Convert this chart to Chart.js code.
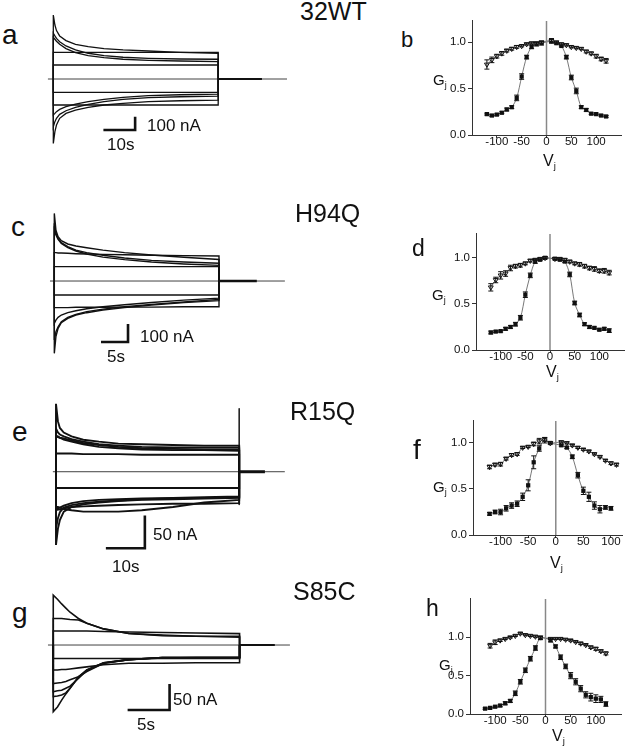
<!DOCTYPE html>
<html lang="en">
<head>
<meta charset="UTF-8">
<title>junctional currents and Gj-Vj</title>
<script src="https://cdn.jsdelivr.net/npm/chart.js"></script>
<style>
  body { margin: 0; background: #fff; font-family: "Liberation Sans", Arial, sans-serif; }
  #fig { position: relative; width: 629px; height: 750px; overflow: hidden; }
  #fig canvas { position: absolute; }
  .lbl { position: absolute; line-height: 1; color: #111; white-space: nowrap; }
  .lbl sub { font-size: 0.6em; vertical-align: -0.35em; line-height: 0; }
</style>
</head>
<body>
<div id="fig">
  <canvas id="trA" width="260" height="150" style="left:40px;top:5px"></canvas>
  <canvas id="trC" width="260" height="155" style="left:40px;top:205px"></canvas>
  <canvas id="trE" width="260" height="160" style="left:40px;top:395px"></canvas>
  <canvas id="trG" width="260" height="150" style="left:40px;top:585px"></canvas>

  <canvas id="gjB" width="190" height="145" style="left:436px;top:12px"></canvas>
  <canvas id="gjD" width="189" height="147" style="left:440px;top:225px"></canvas>
  <canvas id="gjF" width="190" height="145" style="left:437px;top:412px"></canvas>
  <canvas id="gjH" width="192" height="146" style="left:434px;top:590px"></canvas>

  <!-- panel letters and titles -->
  <div class="lbl" style="font-size:28px;left:2px;top:21px">a</div>
  <div class="lbl" style="font-size:28px;left:11px;top:213px">c</div>
  <div class="lbl" style="font-size:28px;left:12px;top:418px">e</div>
  <div class="lbl" style="font-size:28px;left:12px;top:599px">g</div>
  <div class="lbl" style="font-size:22px;left:401px;top:29px">b</div>
  <div class="lbl" style="font-size:23px;left:412px;top:237px">d</div>
  <div class="lbl" style="font-size:28px;left:413px;top:436px">f</div>
  <div class="lbl" style="font-size:23px;left:426px;top:597px">h</div>

  <div class="lbl" style="font-size:25px;left:300px;top:-1px">32WT</div>
  <div class="lbl" style="font-size:25px;left:295px;top:201px">H94Q</div>
  <div class="lbl" style="font-size:25px;left:290px;top:399px">R15Q</div>
  <div class="lbl" style="font-size:25px;left:293px;top:579px">S85C</div>

  <!-- scale bar labels -->
  <div class="lbl" style="font-size:17px;left:147px;top:117px">100 nA</div>
  <div class="lbl" style="font-size:17px;left:107px;top:136px">10s</div>
  <div class="lbl" style="font-size:17px;left:140px;top:328px">100 nA</div>
  <div class="lbl" style="font-size:17px;left:107px;top:348px">5s</div>
  <div class="lbl" style="font-size:17px;left:153px;top:526px">50 nA</div>
  <div class="lbl" style="font-size:17px;left:112px;top:558px">10s</div>
  <div class="lbl" style="font-size:17px;left:173px;top:691px">50 nA</div>
  <div class="lbl" style="font-size:17px;left:137px;top:716px">5s</div>

  <!-- Gj / Vj axis titles -->
  <div class="lbl" style="font-size:15px;left:433px;top:72px">G<sub>j</sub></div>
  <div class="lbl" style="font-size:15px;left:432px;top:287px">G<sub>j</sub></div>
  <div class="lbl" style="font-size:15px;left:433px;top:479px">G<sub>j</sub></div>
  <div class="lbl" style="font-size:15px;left:439px;top:657px">G<sub>j</sub></div>
  <div class="lbl" style="font-size:16px;left:543px;top:153px">V<sub>j</sub></div>
  <div class="lbl" style="font-size:16px;left:546px;top:364px">V<sub>j</sub></div>
  <div class="lbl" style="font-size:16px;left:550px;top:555px">V<sub>j</sub></div>
  <div class="lbl" style="font-size:16px;left:552px;top:728px">V<sub>j</sub></div>
</div>

<script>
// ---- current traces (time in s, current in nA) ----
const tA = [0, 0.5, 1, 2, 4, 7, 11, 16, 22, 30, 40, 52];
const tracesA = [
  [480, 405, 363, 323, 288, 260, 243, 228, 218, 210, 200, 193],
  [343, 323, 305, 280, 248, 218, 193, 175, 163, 155, 150, 148],
  [313, 298, 283, 260, 228, 198, 175, 160, 148, 140, 135, 130],
  [-483, -395, -345, -295, -258, -233, -213, -195, -183, -170, -163, -158],
  [-358, -320, -295, -265, -238, -213, -190, -170, -153, -140, -133, -128],
  [-270, -258, -245, -228, -208, -188, -170, -153, -138, -125, -118, -113]
];
const flatA = [200, 105, -100, -195];

const tC = [0, 0.3, 0.7, 1.3, 2.5, 4, 6, 9, 13, 18, 24, 30.5];
const tracesC = [
  [376, 283, 246, 224, 206, 195, 185, 172, 158, 145, 132, 120],
  [321, 265, 237, 213, 191, 172, 158, 143, 128, 115, 106, 99],
  [284, 256, 232, 209, 185, 167, 150, 133, 119, 106, 95, 87],
  [158, 158, 156, 156, 154, 152, 150, 148, 146, 143, 141, 139],
  [-402, -309, -263, -232, -208, -189, -176, -161, -148, -133, -120, -109],
  [-328, -282, -254, -226, -202, -185, -170, -156, -143, -130, -117, -102],
  [-235, -217, -202, -189, -176, -165, -154, -143, -132, -119, -106, -95],
  [-148, -148, -148, -148, -148, -146, -146, -146, -145, -145, -143, -143]
];
const flatC = [80, -78];

const tE = [0, 0.5, 1, 2, 4, 7, 11, 16, 22, 30, 38, 47];
const tracesE = [
  [104, 77, 67, 60, 54, 49, 46, 43, 42, 41, 40, 40],
  [66, 60, 57, 54, 50, 46, 42, 40, 38, 37, 37, 37],
  [54, 53, 52, 51, 48, 44, 41, 38, 36, 35, 34, 34],
  [55, 54, 52, 49, 46, 42, 38, 36, 34, 33, 33, 32],
  [28, 28, 28, 28, 28, 27, 27, 27, 26, 26, 26, 26],
  [-112, -87, -74, -61, -54, -50, -47, -45, -43, -42, -41, -40],
  [-87, -71, -62, -55, -51, -48, -46, -44, -42, -41, -40, -39],
  [-54, -54, -55, -57, -59, -61, -61, -61, -59, -54, -47, -43],
  [-56, -56, -55, -52, -48, -45, -43, -42, -41, -40, -39, -38],
  [-59, -58, -58, -56, -54, -53, -52, -51, -50, -49, -49, -48]
];
const flatE = [-25];
const offSpikeE = [97, -51];

const tG = [0, 0.5, 1, 1.5, 2, 3, 4, 6, 9, 13, 17, 22.2];
const tracesG = [
  [96, 88, 79, 71, 63, 51, 42, 31, 22, 18, 17, 15],
  [51, 51, 51, 50, 49, 48, 42, 31, 22, 19, 17, 17],
  [27, 27, 27, 27, 27, 27, 27, 26, 25, 24, 23, 22],
  [-128, -119, -106, -94, -83, -61, -48, -34, -28, -24, -24, -24],
  [-99, -98, -96, -92, -83, -62, -48, -34, -28, -24, -24, -24],
  [-90, -88, -87, -83, -79, -64, -49, -35, -28, -24, -24, -24],
  [-74, -73, -72, -70, -67, -61, -51, -35, -28, -25, -24, -24],
  [-48, -48, -47, -47, -46, -44, -42, -38, -35, -35, -34, -34]
];
const flatG = [-26];

// ---- Gj-Vj data (normalised conductance) ----
const vTicks = [-100, -50, 0, 50, 100];
const gTicks = [0, 0.5, 1.0];

const vB = [-120, -110, -100, -90, -80, -70, -60, -50, -40, -30, -20, -10, 10, 20, 30, 40, 50, 60, 70, 80, 90, 100, 110, 120];
const bOpen = [0.76, 0.81, 0.85, 0.88, 0.91, 0.93, 0.95, 0.96, 0.98, 0.99, 0.99, 1.0, 1.02, 1.0, 0.98, 0.97, 0.95, 0.94, 0.93, 0.90, 0.88, 0.85, 0.82, 0.80];
const bOpenErr = [0.05, 0.03, 0.02, 0.02, 0.015, 0.015, 0.015, 0.01, 0.01, 0.01, 0.01, 0.01, 0.02, 0.01, 0.01, 0.01, 0.01, 0.01, 0.01, 0.015, 0.015, 0.02, 0.02, 0.025];
const bFilled = [0.225, 0.21, 0.22, 0.24, 0.275, 0.30, 0.40, 0.63, 0.84, 0.95, 0.98, 0.99, 1.01, 0.99, 0.96, 0.84, 0.62, 0.475, 0.30, 0.27, 0.23, 0.225, 0.21, 0.20];
const bFilledErr = [0.01, 0.01, 0.01, 0.01, 0.015, 0.015, 0.03, 0.03, 0.02, 0.02, 0.02, 0.02, 0.02, 0.01, 0.01, 0.02, 0.025, 0.03, 0.015, 0.015, 0.01, 0.01, 0.01, 0.01];

const vD = vB;
const dOpen = [0.68, 0.76, 0.81, 0.83, 0.89, 0.91, 0.92, 0.94, 0.97, 0.98, 0.99, 1.0, 0.99, 0.99, 0.98, 0.96, 0.94, 0.93, 0.91, 0.89, 0.88, 0.86, 0.86, 0.84];
const dOpenErr = [0.04, 0.03, 0.04, 0.03, 0.03, 0.02, 0.02, 0.015, 0.015, 0.01, 0.01, 0.01, 0.01, 0.01, 0.01, 0.015, 0.015, 0.02, 0.02, 0.02, 0.025, 0.02, 0.025, 0.025];
const dFilled = [0.19, 0.20, 0.205, 0.23, 0.25, 0.28, 0.35, 0.60, 0.81, 0.96, 0.98, 1.0, 0.99, 0.98, 0.96, 0.82, 0.51, 0.38, 0.28, 0.25, 0.24, 0.22, 0.23, 0.21];
const dFilledErr = [0.015, 0.01, 0.01, 0.015, 0.015, 0.02, 0.025, 0.03, 0.025, 0.02, 0.01, 0.01, 0.01, 0.01, 0.01, 0.025, 0.02, 0.02, 0.015, 0.015, 0.01, 0.01, 0.015, 0.02];

const vFOpen = [-120, -110, -100, -90, -80, -70, -60, -50, -40, -30, -20, -10, 10, 20, 30, 40, 50, 60, 70, 80, 90, 100, 110];
const fOpen = [0.74, 0.765, 0.77, 0.83, 0.87, 0.88, 0.95, 0.96, 0.99, 1.02, 1.03, 1.0, 1.01, 1.0, 0.975, 0.95, 0.93, 0.91, 0.88, 0.85, 0.81, 0.78, 0.765];
const fOpenErr = [0.02, 0.015, 0.02, 0.015, 0.015, 0.015, 0.01, 0.01, 0.02, 0.03, 0.03, 0.01, 0.01, 0.01, 0.01, 0.01, 0.01, 0.01, 0.01, 0.01, 0.01, 0.015, 0.015];
const vFFilled = [-120, -110, -100, -90, -80, -70, -60, -50, -40, -30, -20, -10, 10, 20, 30, 40, 50, 60, 70, 80, 90, 100];
const fFilled = [0.23, 0.25, 0.25, 0.29, 0.32, 0.34, 0.415, 0.54, 0.79, 0.94, 1.04, 1.0, 0.975, 0.95, 0.85, 0.65, 0.48, 0.415, 0.32, 0.28, 0.30, 0.29];
const fFilledErr = [0.015, 0.02, 0.03, 0.03, 0.03, 0.03, 0.04, 0.06, 0.07, 0.03, 0.02, 0.01, 0.01, 0.01, 0.02, 0.03, 0.04, 0.05, 0.04, 0.04, 0.02, 0.02];

const vHOpen = [-110, -100, -90, -80, -70, -60, -50, -40, -30, -20, -10, 10, 20, 30, 40, 50, 60, 70, 80, 90, 100, 110, 120];
const hOpen = [0.89, 0.935, 0.96, 0.98, 1.0, 1.02, 1.05, 1.03, 1.02, 1.01, 1.0, 0.98, 0.98, 0.98, 0.97, 0.96, 0.94, 0.92, 0.90, 0.87, 0.85, 0.82, 0.79];
const hOpenErr = [0.03, 0.03, 0.015, 0.01, 0.01, 0.01, 0.01, 0.01, 0.01, 0.01, 0.01, 0.01, 0.01, 0.01, 0.01, 0.01, 0.01, 0.015, 0.01, 0.015, 0.02, 0.015, 0.02];
const vHFilled = vB;
const hFilled = [0.07, 0.08, 0.095, 0.11, 0.14, 0.17, 0.27, 0.42, 0.57, 0.72, 0.86, 0.99, 0.96, 0.88, 0.74, 0.62, 0.50, 0.42, 0.33, 0.25, 0.22, 0.20, 0.19, 0.13];
const hFilledErr = [0.01, 0.01, 0.01, 0.015, 0.02, 0.02, 0.03, 0.03, 0.03, 0.03, 0.03, 0.02, 0.02, 0.02, 0.03, 0.03, 0.04, 0.04, 0.04, 0.04, 0.05, 0.05, 0.04, 0.03];

const FONT = '"Liberation Sans", Arial, sans-serif';

// draw current traces: each trace jumps from 0 at t=0, decays, and returns to 0 at pulse end
function traceChart(id, o) {
  const T = o.times[o.times.length - 1];
  const line = (data, w) => ({ data: data, showLine: true, borderColor: '#111', borderWidth: w, pointRadius: 0 });
  const ds = [];
  ds.push(line([{ x: o.base[0], y: 0 }, { x: o.base[1], y: 0 }], 0.8));
  ds.push(line([{ x: T, y: 0 }, { x: o.tail, y: 0 }], o.tailWidth));
  o.flats.forEach(v => ds.push(line([{ x: 0, y: 0 }, { x: 0, y: v }, { x: T, y: v }, { x: T, y: 0 }], o.lw)));
  o.traces.forEach(vals => {
    const pts = [{ x: 0, y: 0 }].concat(o.times.map((t, i) => ({ x: t, y: vals[i] })), [{ x: T, y: 0 }]);
    ds.push(line(pts, o.lw));
  });
  if (o.spike) ds.push(line([{ x: T, y: o.spike[0] }, { x: T, y: o.spike[1] }], 0.8));
  // scale bar: dt seconds horizontally, dy nA vertically
  const b = o.bar;
  ds.push(line([{ x: b.t0, y: b.y0 }, { x: b.t0 + b.dt, y: b.y0 }, { x: b.t0 + b.dt, y: b.y0 + b.dy }], 2.6));

  new Chart(document.getElementById(id), {
    type: 'scatter',
    data: { datasets: ds },
    options: {
      responsive: false,
      animation: false,
      layout: { padding: 0 },
      plugins: { legend: { display: false }, tooltip: { enabled: false } },
      scales: {
        x: { type: 'linear', display: false, min: o.xr[0], max: o.xr[1] },
        y: { type: 'linear', display: false, min: o.yr[0], max: o.yr[1] }
      }
    }
  });
}

traceChart('trA', { times: tA, traces: tracesA, flats: flatA, lw: 1.3,
  xr: [-4.2, 77.8], yr: [-570, 555], base: [-1.7, 73.7], tail: 65.8, tailWidth: 2,
  bar: { t0: 15.8, y0: -383, dt: 10, dy: 100 } });
traceChart('trC', { times: tC, traces: tracesC, flats: flatC, lw: 1.4,
  xr: [-2.65, 45.5], yr: [-439, 422.6], base: [-0.8, 42.7], tail: 37.5, tailWidth: 2.5,
  bar: { t0: 8.65, y0: -339, dt: 5, dy: 100 } });
traceChart('trE', { times: tE, traces: tracesE, flats: flatE, lw: 1.9,
  xr: [-4.1, 62.6], yr: [-127.4, 117.4], base: [-0.8, 58.7], tail: 53.6, tailWidth: 3,
  spike: offSpikeE, bar: { t0: 12.8, y0: -117, dt: 10, dy: 50 } });
traceChart('trG', { times: tG, traces: tracesG, flats: flatG, lw: 1.6,
  xr: [-1.58, 29.4], yr: [-173, 115.4], base: [-0.63, 28.2], tail: 26.4, tailWidth: 2,
  bar: { t0: 8.86, y0: -125, dt: 5, dy: 50 } });

// error bars drawn through the chart's own scales
const errorBars = {
  id: 'errorBars',
  afterDatasetsDraw(chart) {
    const ctx = chart.ctx, xs = chart.scales.x, ys = chart.scales.y;
    ctx.save();
    ctx.strokeStyle = '#111';
    ctx.lineWidth = 1;
    chart.data.datasets.forEach(d => {
      if (!d.errs) return;
      d.data.forEach((p, i) => {
        const e = d.errs[i];
        const x = xs.getPixelForValue(p.x);
        const y1 = ys.getPixelForValue(p.y + e), y2 = ys.getPixelForValue(p.y - e);
        ctx.beginPath();
        ctx.moveTo(x, y1); ctx.lineTo(x, y2);
        ctx.moveTo(x - 2.5, y1); ctx.lineTo(x + 2.5, y1);
        ctx.moveTo(x - 2.5, y2); ctx.lineTo(x + 2.5, y2);
        ctx.stroke();
      });
    });
    ctx.restore();
  }
};

function gjChart(id, o) {
  const pts = (v, g) => v.map((x, i) => ({ x: x, y: g[i] }));
  new Chart(document.getElementById(id), {
    type: 'scatter',
    data: {
      datasets: [
        { data: [{ x: 0, y: 0 }, { x: 0, y: o.yMax }], showLine: true, borderColor: '#888', borderWidth: 1.5, pointRadius: 0 },
        { data: pts(o.vOpen, o.open), errs: o.openErr, showLine: true, tension: 0.3,
          borderColor: '#555', borderWidth: 0.8, pointStyle: 'triangle', pointRotation: 180,
          pointRadius: 2.8, pointBackgroundColor: '#fff', pointBorderColor: '#111', pointBorderWidth: 1 },
        { data: pts(o.vFilled, o.filled), errs: o.filledErr, showLine: true, tension: 0.3,
          borderColor: '#555', borderWidth: 0.8, pointStyle: 'rect',
          pointRadius: 3, pointBackgroundColor: '#111', pointBorderColor: '#111', pointBorderWidth: 0 }
      ]
    },
    options: {
      responsive: false,
      animation: false,
      layout: { padding: { top: 8, right: o.padRight, left: 0, bottom: 0 } },
      plugins: { legend: { display: false }, tooltip: { enabled: false } },
      scales: {
        x: {
          type: 'linear', min: o.xMin, max: o.xMax,
          afterBuildTicks: s => { s.ticks = vTicks.map(v => ({ value: v })); },
          afterFit: s => { s.height = 22; },
          grid: { drawOnChartArea: false, drawTicks: true, tickLength: 3, color: '#333' },
          border: { display: true, color: '#333', width: 1 },
          ticks: { color: '#111', padding: -3, maxRotation: 0, autoSkip: false,
            font: { family: FONT, size: 11.5 }, callback: v => String(v) }
        },
        y: {
          type: 'linear', min: 0, max: o.yMax,
          afterBuildTicks: s => { s.ticks = gTicks.map(v => ({ value: v })); },
          afterFit: s => { s.width = 36; },
          grid: { drawOnChartArea: false, drawTicks: true, tickLength: 4, color: '#333' },
          border: { display: true, color: '#333', width: 1 },
          ticks: { color: '#111', padding: 2, font: { family: FONT, size: 11.5 }, callback: v => v.toFixed(1) }
        }
      }
    },
    plugins: [errorBars]
  });
}

gjChart('gjB', { vOpen: vB, open: bOpen, openErr: bOpenErr, vFilled: vB, filled: bFilled, filledErr: bFilledErr,
  xMin: -150, xMax: 150, yMax: 1.23, padRight: 4 });
gjChart('gjD', { vOpen: vD, open: dOpen, openErr: dOpenErr, vFilled: vD, filled: dFilled, filledErr: dFilledErr,
  xMin: -150, xMax: 150, yMax: 1.26, padRight: 3 });
gjChart('gjF', { vOpen: vFOpen, open: fOpen, openErr: fOpenErr, vFilled: vFFilled, filled: fFilled, filledErr: fFilledErr,
  xMin: -150, xMax: 120, yMax: 1.24, padRight: 3 });
gjChart('gjH', { vOpen: vHOpen, open: hOpen, openErr: hOpenErr, vFilled: vHFilled, filled: hFilled, filledErr: hFilledErr,
  xMin: -150, xMax: 150, yMax: 1.5, padRight: 4 });
</script>
</body>
</html>
